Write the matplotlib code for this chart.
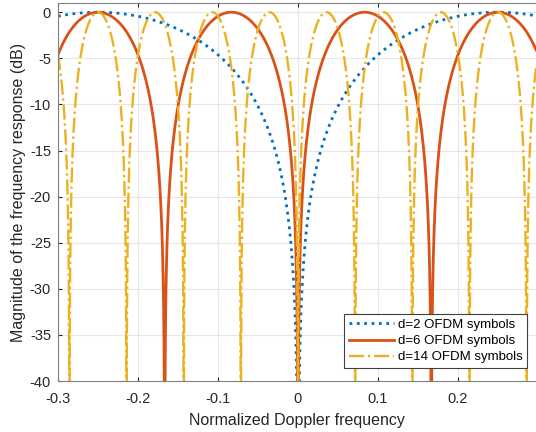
import numpy as np
import matplotlib
matplotlib.use("Agg")
from matplotlib import pyplot as plt

# symbol spacings
D_VALUES = [2, 6, 14]
LABELS = ["d=2 OFDM symbols", "d=6 OFDM symbols", "d=14 OFDM symbols"]
COLORS = ["#0072BD", "#D95319", "#EDB120"]
STYLES = [":", "-", "-."]
WIDTHS = [2.0, 2.0, 1.7]

X_TICKS = [-0.3, -0.2, -0.1, 0, 0.1, 0.2]
Y_TICKS = [-40, -35, -30, -25, -20, -15, -10, -5, 0]

plt.rcParams["font.family"] = ["Liberation Sans", "DejaVu Sans"]


def response_db(f, d):
    # |1 - exp(-j 2 pi f d)| normalised to 0 dB peak
    mag = np.abs(np.sin(np.pi * f * d))
    return 20 * np.log10(np.maximum(mag, 1e-12))


fig = plt.figure(figsize=(5.36, 4.32), dpi=100)
ax = fig.add_axes([58 / 536, 51 / 432, 1 - 58 / 536, 378 / 432])

f = np.linspace(-0.3, 0.3, 12001)
for d, lab, c, ls, lw in zip(D_VALUES, LABELS, COLORS, STYLES, WIDTHS):
    ax.plot(f, response_db(f, d), color=c, linestyle=ls, linewidth=lw, label=lab)

ax.set_xlim(-0.3, 0.2975)
ax.set_ylim(-40, 1)
ax.set_xticks(X_TICKS)
ax.set_xticklabels(["-0.3", "-0.2", "-0.1", "0", "0.1", "0.2"])
ax.set_yticks(Y_TICKS)
ax.set_yticklabels([str(v) for v in Y_TICKS])
ax.grid(True, color="#e6e6e6", linewidth=0.8)
ax.set_axisbelow(True)
ax.tick_params(direction="in", top=True, length=3, labelsize=10.5,
               colors="#262626")
ax.tick_params(axis="x", pad=8)
ax.tick_params(axis="y", pad=5)
for s in ["left", "bottom", "top"]:
    ax.spines[s].set_color("#808080")
ax.spines["right"].set_visible(False)

ax.set_xlabel("Normalized Doppler frequency", fontsize=11.5, color="#262626", labelpad=5)
ax.set_ylabel("Magnitude of the frequency response (dB)", fontsize=11.5,
              color="#262626", labelpad=3)

leg = ax.legend(loc="lower right", bbox_to_anchor=(527 / 536, 64 / 432),
                bbox_transform=fig.transFigure, fontsize=9.5, fancybox=False,
                framealpha=1, borderpad=0.35, labelspacing=0.3,
                handlelength=3.4, handletextpad=0.3, borderaxespad=0)
leg.get_frame().set_edgecolor("#404040")
leg.get_frame().set_linewidth(0.8)

fig.savefig("out.png", dpi=100)
